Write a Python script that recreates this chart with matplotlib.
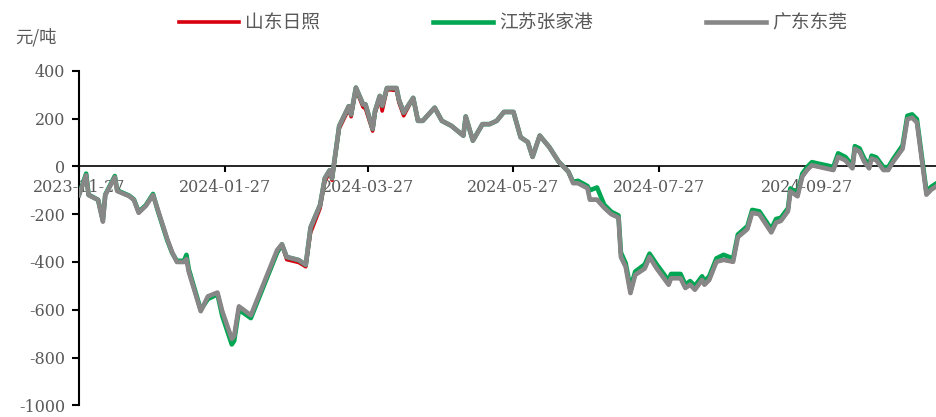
import pandas as pd
import matplotlib.pyplot as plt
import matplotlib.dates as mdates

plt.rcParams["font.family"] = ["Noto Sans CJK SC", "DejaVu Sans"]
plt.rcParams["axes.unicode_minus"] = False

dates = [
    "2023-11-27", "2023-11-30", "2023-12-01", "2023-12-05", "2023-12-07", "2023-12-08",
    "2023-12-12", "2023-12-13", "2023-12-18", "2023-12-20", "2023-12-22", "2023-12-25",
    "2023-12-28", "2023-12-30", "2024-01-03", "2024-01-05", "2024-01-07", "2024-01-10",
    "2024-01-11", "2024-01-12", "2024-01-17", "2024-01-20", "2024-01-24", "2024-01-26",
    "2024-01-30", "2024-01-31", "2024-02-02", "2024-02-07", "2024-02-18", "2024-02-20",
    "2024-02-22", "2024-02-27", "2024-03-01", "2024-03-03", "2024-03-07", "2024-03-09",
    "2024-03-11", "2024-03-12", "2024-03-15", "2024-03-19", "2024-03-20", "2024-03-22",
    "2024-03-25", "2024-03-26", "2024-03-29", "2024-03-30", "2024-04-01", "2024-04-02",
    "2024-04-04", "2024-04-08", "2024-04-09", "2024-04-11", "2024-04-15", "2024-04-17",
    "2024-04-19", "2024-04-24", "2024-04-27", "2024-05-01", "2024-05-06", "2024-05-07",
    "2024-05-10", "2024-05-14", "2024-05-17", "2024-05-20", "2024-05-23", "2024-05-27",
    "2024-05-30", "2024-06-02", "2024-06-04", "2024-06-07", "2024-06-11", "2024-06-15",
    "2024-06-19", "2024-06-21", "2024-06-23", "2024-06-27", "2024-06-28", "2024-07-01",
    "2024-07-04", "2024-07-07", "2024-07-10", "2024-07-11", "2024-07-13", "2024-07-15",
    "2024-07-17", "2024-07-21", "2024-07-23", "2024-07-26", "2024-07-31", "2024-08-01",
    "2024-08-05", "2024-08-07", "2024-08-09", "2024-08-11", "2024-08-14", "2024-08-15",
    "2024-08-17", "2024-08-20", "2024-08-23", "2024-08-27", "2024-08-29", "2024-09-02",
    "2024-09-04", "2024-09-07", "2024-09-12", "2024-09-14", "2024-09-16", "2024-09-19",
    "2024-09-20", "2024-09-23", "2024-09-25", "2024-09-27", "2024-09-29", "2024-10-08",
    "2024-10-10", "2024-10-13", "2024-10-16", "2024-10-17", "2024-10-19", "2024-10-21",
    "2024-10-23", "2024-10-24", "2024-10-26", "2024-10-29", "2024-10-31", "2024-11-02",
    "2024-11-06", "2024-11-08", "2024-11-10", "2024-11-12", "2024-11-14", "2024-11-16",
    "2024-11-18", "2024-11-20",
]

# 广东东莞
dongguan = [
    -120, -37, -120, -140, -231, -120,
    -45, -103, -124, -140, -194, -165,
    -120, -181, -305, -359, -400, -400,
    -388, -441, -606, -544, -528, -606,
    -722, -709, -586, -623, -350, -326,
    -379, -392, -412, -256, -161, -49,
    -16, -49, 169, 252, 218, 330,
    260, 260, 157, 231, 295, 255,
    328, 328, 280, 225, 287, 191,
    191, 246, 191, 170, 129, 209,
    108, 177, 177, 191, 228, 228,
    122, 102, 40, 129, 81, 19,
    -22, -70, -70, -91, -139, -139,
    -173, -200, -214, -379, -420, -530,
    -454, -427, -379, -427, -495, -468,
    -468, -509, -495, -516, -475, -495,
    -475, -399, -391, -399, -296, -262,
    -194, -200, -276, -235, -228, -187,
    -104, -125, -42, -15, 5, -15,
    40, 26, -8, 74, 62, 19,
    -8, 33, 26, -15, -15, 19,
    74, 198, 204, 184, 33, -118,
    -97, -84,
]

# 江苏张家港
zhangjiagang = [
    -118, -30, -118, -140, -225, -118,
    -40, -100, -122, -138, -190, -162,
    -115, -185, -310, -362, -395, -395,
    -370, -430, -600, -555, -535, -625,
    -745, -730, -600, -635, -360, -326,
    -379, -392, -412, -256, -161, -49,
    -16, -49, 169, 252, 218, 330,
    260, 260, 157, 231, 295, 255,
    328, 328, 280, 225, 287, 191,
    191, 246, 191, 170, 129, 209,
    108, 177, 177, 191, 228, 228,
    122, 102, 40, 129, 81, 19,
    -22, -65, -60, -82, -100, -88,
    -160, -190, -205, -360, -405, -510,
    -440, -410, -365, -410, -478, -450,
    -450, -495, -480, -500, -460, -480,
    -460, -385, -370, -385, -285, -250,
    -182, -188, -262, -220, -215, -175,
    -92, -112, -30, -3, 18, -2,
    55, 40, 5, 85, 75, 32,
    5, 45, 38, -3, -3, 30,
    88, 212, 218, 198, 45, -105,
    -85, -72,
]

# 山东日照
rizhao = [
    -120, -37, -120, -140, -231, -120,
    -45, -103, -124, -140, -194, -165,
    -120, -181, -305, -359, -400, -400,
    -388, -441, -606, -544, -528, -606,
    -722, -709, -586, -630, -362, -330,
    -390, -402, -420, -278, -175, -62,
    -25, -58, 158, 240, 208, 322,
    248, 242, 148, 222, 285, 232,
    322, 318, 268, 212, 287, 191,
    191, 246, 191, 170, 129, 209,
    108, 177, 177, 191, 228, 228,
    122, 102, 40, 129, 81, 19,
    -22, -70, -70, -91, -139, -139,
    -173, -200, -214, -379, -420, -530,
    -454, -427, -379, -427, -495, -468,
    -468, -509, -495, -516, -475, -495,
    -475, -399, -391, -399, -296, -262,
    -194, -200, -276, -235, -228, -187,
    -104, -125, -42, -15, 5, -15,
    40, 26, -8, 74, 62, 19,
    -8, 33, 26, -15, -15, 19,
    74, 198, 204, 184, 33, -118,
    -97, -84,
]

tick_dates = ["2023-11-27", "2024-01-27", "2024-03-27", "2024-05-27", "2024-07-27", "2024-09-27"]

df = pd.DataFrame(
    {"山东日照": rizhao, "江苏张家港": zhangjiagang, "广东东莞": dongguan},
    index=pd.to_datetime(dates),
)

fig = plt.figure(figsize=(9.36, 4.17), dpi=100)
ax = fig.add_axes([0.0844, 0.028, 0.9156, 0.802])

ax.plot(df.index, df["山东日照"], color="#d7000f", lw=2.6, label="山东日照", zorder=2)
ax.plot(df.index, df["江苏张家港"], color="#00a651", lw=3.3, label="江苏张家港", zorder=3)
ax.plot(df.index, df["广东东莞"], color="#878787", lw=3.3, label="广东东莞", zorder=4)

ax.set_xlim(pd.Timestamp("2023-11-27"), pd.Timestamp("2024-11-20"))
ax.set_ylim(-1000, 400)
ax.set_yticks(range(-1000, 401, 200))
ax.set_xticks(pd.to_datetime(tick_dates))
ax.xaxis.set_major_formatter(mdates.DateFormatter("%Y-%m-%d"))

ax.spines["top"].set_visible(False)
ax.spines["right"].set_visible(False)
ax.spines["bottom"].set_position(("data", 0))
ax.spines["left"].set_linewidth(1.5)
ax.spines["bottom"].set_linewidth(1.2)

for lab in ax.get_xticklabels() + ax.get_yticklabels():
    lab.set_family(["DejaVu Serif"])
    lab.set_fontsize(11.5)
    lab.set_color("#595959")
ax.tick_params(axis="y", direction="out", length=5, width=1.5, pad=5)
ax.tick_params(axis="x", direction="out", length=4, width=1.5, pad=5)

fig.text(0.016, 0.911, "元/吨", fontsize=12.5, color="#595959", va="center")

fig.legend(
    loc="upper center", bbox_to_anchor=(0.548, 1.01), ncol=3, frameon=False,
    fontsize=13.5, handlelength=3.2, handletextpad=0.35, columnspacing=6.0,
    labelcolor="#595959",
)

plt.savefig("out.png")
